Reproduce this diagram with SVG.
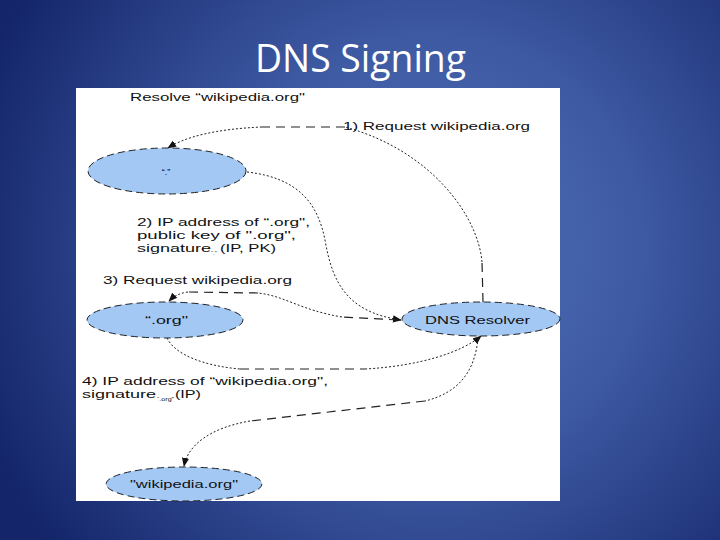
<svg xmlns="http://www.w3.org/2000/svg" width="720" height="540" viewBox="0 0 720 540">
  <defs>
    <radialGradient id="bg" cx="430" cy="250" r="480" gradientUnits="userSpaceOnUse">
      <stop offset="0" stop-color="#5173ba"/>
      <stop offset="0.45" stop-color="#3d59a2"/>
      <stop offset="1" stop-color="#14256a"/>
    </radialGradient>
    <marker id="arr" viewBox="0 0 10 10" refX="9" refY="5" markerWidth="9" markerHeight="9" markerUnits="userSpaceOnUse" orient="auto">
      <path d="M0,1 L10,5 L0,9 Z" fill="#111"/>
    </marker>
    <style>
      .node ellipse { fill: #a3c8f4; stroke: #222; stroke-width: 1; stroke-dasharray: 7 4; }
      .lbl { font-family: "Liberation Sans", Arial, sans-serif; font-size: 11.5px; fill: #111; }
      .sub { font-family: "Liberation Sans", Arial, sans-serif; font-size: 6px; fill: #111; }
      .dot { fill: none; stroke: #222; stroke-width: 1; stroke-dasharray: 2 2; }
      .dash { fill: none; stroke: #222; stroke-width: 1.2; stroke-dasharray: 9 6; }
    </style>
  </defs>

  <rect x="0" y="0" width="720" height="540" fill="url(#bg)"/>
  <text x="360.5" y="72" text-anchor="middle" font-family="'Open Sans', Lato, sans-serif" font-size="38" fill="#ffffff" textLength="211" lengthAdjust="spacingAndGlyphs">DNS Signing</text>

  <rect x="76" y="88" width="484" height="413" fill="#ffffff"/>

  <g id="connectors">
    <!-- 1) resolver -> root -->
    <path class="dash" d="M483,302 L482,262"/>
    <path class="dot" d="M482,262 C478,215 430,150 345,127"/>
    <path class="dash" d="M345,127 L262,127"/>
    <path class="dot" d="M262,127 C215,129 185,137 168,148" marker-end="url(#arr)"/>
    <!-- 2) root -> resolver -->
    <path class="dot" d="M247,172 C300,178 318,205 325,240 C332,280 345,312 401,320" marker-end="url(#arr)"/>
    <!-- 3) resolver -> .org -->
    <path class="dash" d="M398,320 L342,317"/>
    <path class="dot" d="M342,317 C300,310 285,296 258,293"/>
    <path class="dash" d="M258,293 L188,292"/>
    <path class="dot" d="M188,292 C180,293 174,296 169,301" marker-end="url(#arr)"/>
    <!-- 4) .org -> resolver -->
    <path class="dot" d="M167,338 C175,355 205,366 240,369"/>
    <path class="dash" d="M240,369 L365,369"/>
    <path class="dot" d="M365,369 C420,366 462,352 481,336" marker-end="url(#arr)"/>
    <!-- 5) resolver -> wikipedia.org -->
    <path class="dot" d="M478,338 C475,372 458,393 425,401"/>
    <path class="dash" d="M425,401 L250,421"/>
    <path class="dot" d="M250,421 C210,428 188,445 184,466" marker-end="url(#arr)"/>
  </g>

  <g id="node-root" class="node">
    <ellipse cx="167" cy="171" rx="79" ry="23"/>
    <text x="166" y="175" text-anchor="middle" class="lbl" font-size="9" style="font-size:9px">“.”</text>
  </g>
  <g id="node-org" class="node">
    <ellipse cx="165" cy="320" rx="78" ry="18"/>
    <text x="145" y="324" class="lbl" textLength="43" lengthAdjust="spacingAndGlyphs">“.org"</text>
  </g>
  <g id="node-resolver" class="node">
    <ellipse cx="481" cy="319" rx="79" ry="17"/>
    <text x="425" y="324" class="lbl" textLength="105" lengthAdjust="spacingAndGlyphs">DNS Resolver</text>
  </g>
  <g id="node-wiki" class="node">
    <ellipse cx="184" cy="484" rx="78" ry="17"/>
    <text x="130" y="488" class="lbl" textLength="108" lengthAdjust="spacingAndGlyphs">"wikipedia.org"</text>
  </g>

  <g id="labels">
    <text x="130" y="101" class="lbl" textLength="175" lengthAdjust="spacingAndGlyphs">Resolve “wikipedia.org"</text>
    <text x="343" y="130" class="lbl" textLength="187" lengthAdjust="spacingAndGlyphs">1) Request wikipedia.org</text>
    <text x="137" y="226" class="lbl" textLength="173" lengthAdjust="spacingAndGlyphs">2) IP address of “.org",</text>
    <text x="137" y="239" class="lbl" textLength="159" lengthAdjust="spacingAndGlyphs">public key of ".org",</text>
    <text x="137" y="252" class="lbl" textLength="74" lengthAdjust="spacingAndGlyphs">signature</text>
    <text x="211" y="255" class="sub">“.”</text>
    <text x="220" y="252" class="lbl" textLength="56" lengthAdjust="spacingAndGlyphs">(IP, PK)</text>
    <text x="103" y="284" class="lbl" textLength="189" lengthAdjust="spacingAndGlyphs">3) Request wikipedia.org</text>
    <text x="82" y="385" class="lbl" textLength="246" lengthAdjust="spacingAndGlyphs">4) IP address of “wikipedia.org",</text>
    <text x="82" y="398" class="lbl" textLength="74" lengthAdjust="spacingAndGlyphs">signature</text>
    <text x="157" y="401" class="sub" textLength="17" lengthAdjust="spacingAndGlyphs">“.org”</text>
    <text x="175" y="398" class="lbl" textLength="26" lengthAdjust="spacingAndGlyphs">(IP)</text>
  </g>
</svg>
